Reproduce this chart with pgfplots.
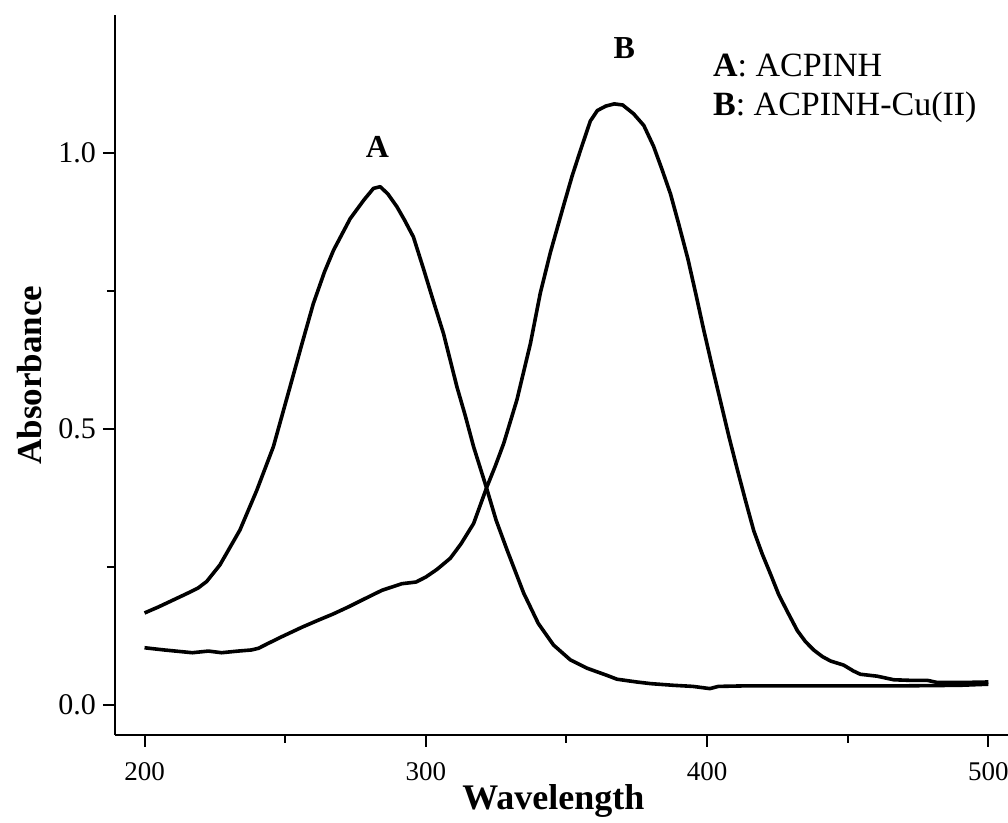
\documentclass[border=0pt]{standalone}
\usepackage{pgfplots}
\pgfplotsset{compat=1.18}
\usepackage{fontspec}
\setmainfont{Liberation Serif}

\begin{document}
\begin{tikzpicture}
\useasboundingbox (-57.5pt,-44pt) rectangle (446.5pt,367.5pt);
\begin{axis}[
  at={(0,0)}, anchor=south west,
  scale only axis,
  width=446.5pt, height=360pt,
  xmin=189.5, xmax=507,
  ymin=-0.054, ymax=1.25,
  axis x line=bottom, axis y line=left,
  axis line style={-, line width=1pt},
  xtick={200,300,400,500},
  minor xtick={250,350,450},
  ytick={0,0.5,1.0},
  minor ytick={0.25,0.75},
  tick align=outside,
  major tick length=6pt, minor tick length=4pt,
  every tick/.style={black, line width=1pt},
  /pgf/number format/assume math mode=true,
  yticklabel style={/pgf/number format/fixed, /pgf/number format/precision=1, /pgf/number format/fixed zerofill, font=\fontsize{15}{17}\selectfont},
  xticklabel style={font=\fontsize{13.5}{16}\selectfont, yshift=-4pt},
  xlabel={\textbf{Wavelength}},
  ylabel={\textbf{Absorbance}},
  xlabel style={font=\fontsize{18}{20}\selectfont, at={(axis description cs:0.491,0)}, anchor=center, yshift=-33pt},
  ylabel style={font=\fontsize{17.5}{20}\selectfont, at={(axis description cs:0,0.5)}, anchor=center, xshift=0pt, yshift=42.5pt},
  clip=false,
]
\addplot[black, line width=1.8pt, line join=round] coordinates {
(200,0.167) (205,0.178) (210,0.190) (215,0.202) (219,0.212) (222.1,0.224)
(226.8,0.254) (233.9,0.317) (239.9,0.389) (245.8,0.468) (251.7,0.576)
(256,0.655) (260,0.727) (264,0.785) (267.2,0.824) (273.1,0.881) (278,0.915)
(281.4,0.936) (283.8,0.939) (286.5,0.926) (289.7,0.903) (292.5,0.878)
(295.6,0.848) (299.2,0.790) (302.8,0.730) (306.3,0.673) (311.1,0.576)
(314,0.525) (317,0.468) (321.5,0.395) (325,0.335) (328.9,0.281)
(332,0.240) (334.8,0.203) (340,0.148) (345.4,0.109) (351.4,0.082)
(357.3,0.067) (364.4,0.054) (368,0.047) (375,0.042) (380,0.039)
(388,0.036) (395,0.034) (401,0.030) (404,0.034) (414,0.035) (430,0.035)
(450,0.035) (470,0.035) (490,0.036) (500,0.038)
};
\addplot[black, line width=1.8pt, line join=round] coordinates {
(200,0.104) (207,0.100) (213,0.097) (217,0.095) (222.7,0.098) (227.4,0.095)
(233.3,0.098) (238,0.100) (240.5,0.103) (244,0.112) (248.8,0.124)
(255.9,0.141) (261.8,0.154) (267,0.165) (272.5,0.178) (278,0.192)
(284.4,0.208) (291.5,0.220) (296.5,0.223) (300,0.232) (304,0.246)
(308.7,0.266) (312.5,0.292) (317,0.329) (321.7,0.395) (324.7,0.433)
(327.7,0.474) (332.4,0.553) (337.2,0.655) (340.7,0.746) (344.3,0.820)
(349,0.905) (352,0.958) (355,1.005) (358.5,1.058) (361,1.077) (364,1.085)
(367,1.089) (370,1.087) (373.9,1.071) (377.5,1.050) (381,1.012)
(384,0.970) (387,0.926) (390,0.870) (393.2,0.808) (396,0.745)
(398.8,0.680) (401.8,0.614) (404.8,0.550) (407.8,0.486) (410.7,0.428)
(413.7,0.370) (416.6,0.316) (419.6,0.274) (422.6,0.237) (425.5,0.200)
(428.5,0.170) (432.1,0.135) (435,0.115) (438,0.0996) (441,0.088)
(443.9,0.080) (448.6,0.0725) (452,0.062) (454.5,0.056) (460.5,0.0525)
(466.4,0.046) (472,0.045) (478.3,0.045) (481.9,0.041) (490,0.041)
(500,0.042)
};
\node[font=\fontsize{16}{18}\selectfont\bfseries] at (axis cs:282.8,1.011) {A};
\node[font=\fontsize{16}{18}\selectfont\bfseries] at (axis cs:370.6,1.19) {B};
\node[anchor=west, inner sep=0pt, font=\fontsize{17}{19}\selectfont] at (axis cs:402,1.159) {\textbf{A}: ACPINH};
\node[anchor=west, inner sep=0pt, font=\fontsize{17}{19}\selectfont] at (axis cs:402,1.082) {\textbf{B}: ACPINH-Cu(II)};
\end{axis}
\end{tikzpicture}
\end{document}
